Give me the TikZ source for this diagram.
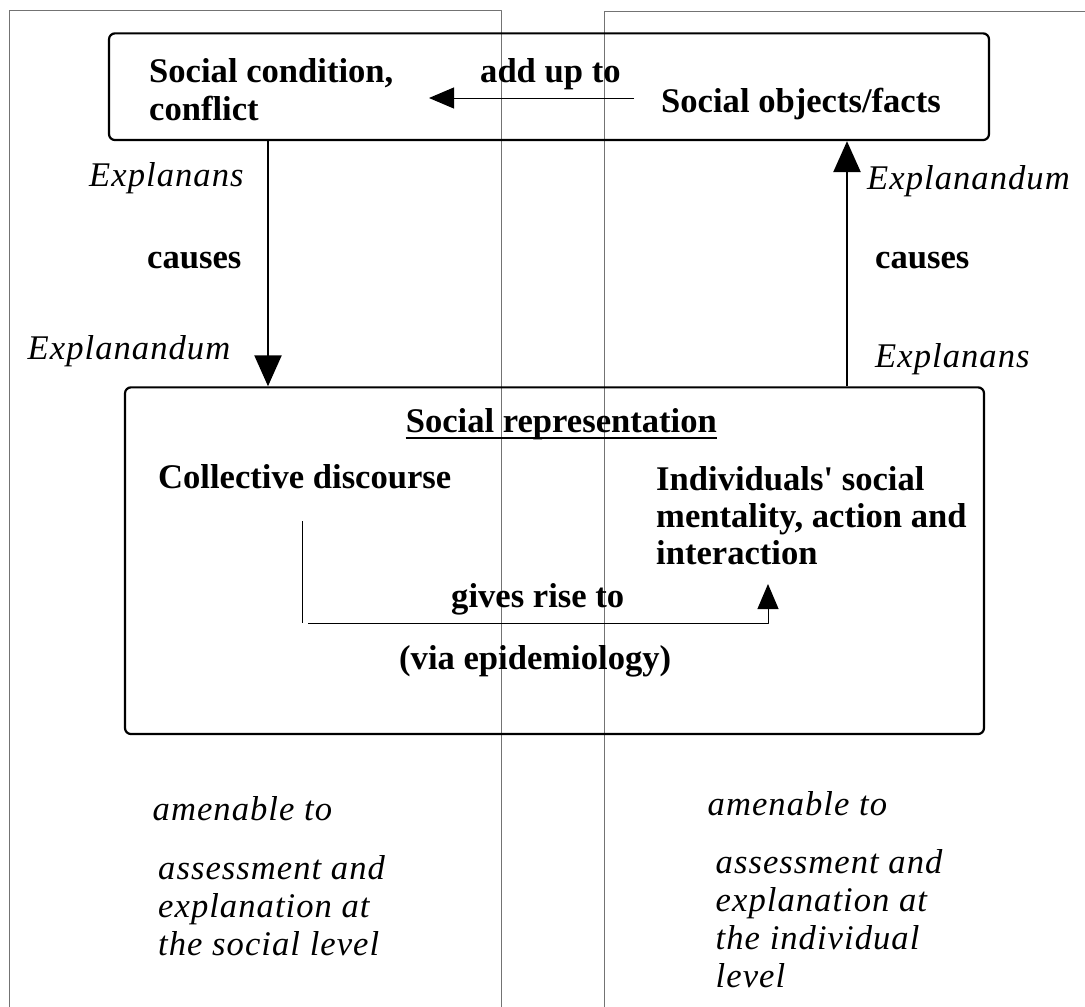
\documentclass[tikz,border=0pt]{standalone}
\usepackage{fontspec}
\setmainfont{Liberation Serif}
\newfontfamily\plainfont{Liberation Serif}
\newfontfamily\spacedfont[LetterSpace=3]{Liberation Serif}
\usetikzlibrary{arrows.meta}
\tikzset{
  level/.style={draw=black!55, line width=1pt},
  box/.style={draw, line width=2.2pt, rounded corners=6pt, inner sep=0pt},
  bold/.style={font=\fontsize{34.6}{37}\selectfont\plainfont\bfseries, inner sep=0pt, anchor=base west, align=left},
  slant/.style={font=\fontsize{34.6}{38}\selectfont\spacedfont\itshape, inner sep=0pt, anchor=base west, align=left},
  causal/.style={line width=2.5pt, -{Triangle[length=31pt,width=27pt]}},
  thinarrow/.style={line width=1pt, -{Triangle[length=25pt,width=21pt]}},
}
\begin{document}
\begin{tikzpicture}[x=1pt,y=-1pt,line join=bevel]
\useasboundingbox (0,0) rectangle (1085,1007);
  % Columns: social level / individual level
  \draw [level] (9,1015) -- (9,10) -- (501,10) -- (501,1015);
  \draw [level] (604,1015) -- (604,11) -- (1095,11);
  % Node: top
  \node [box, minimum width=880pt, minimum height=106.7pt] (top) at (549,86.7) {};
  \node [bold, font=\fontsize{34.6}{38}\selectfont\plainfont\bfseries] (cond) at (149,120) {Social condition,\\conflict};
  \node [bold] (addup) at (480,82) {add up to};
  \node [bold] (facts) at (661,112) {Social objects/facts};
  % Node: rep
  \node [box, minimum width=859pt, minimum height=346.7pt] (rep) at (554.5,560.7) {};
  \node [bold] (title) at (405.6,432) {Social representation};
  \draw [line width=1.4pt] ([yshift=-6pt]title.base west) -- ([yshift=-6pt]title.base east);
  \node [bold] (discourse) at (158,488) {Collective discourse};
  \node [bold] (mentality) at (656,564) {Individuals' social\\mentality, action and\\interaction};
  \node [bold] (rise) at (451,607) {gives rise to};
  \node [bold] (via) at (399,669) {(via epidemiology)};
  % Labels along the arrows
  \node [slant] (lans) at (89,186) {Explanans};
  \node [bold] (lcauses) at (147,268) {causes};
  \node [slant] (ldum) at (27.5,359) {Explanandum};
  \node [slant] (rdum) at (867,189) {Explanandum};
  \node [bold] (rcauses) at (875,268) {causes};
  \node [slant] (rans) at (875,367) {Explanans};
  % Levels
  \node [slant] (lamen) at (152.5,820) {amenable to};
  \node [slant] (lassess) at (158,955) {assessment and\\explanation at\\the social level};
  \node [slant] (ramen) at (707.5,815) {amenable to};
  \node [slant] (rassess) at (715.5,987) {assessment and\\explanation at\\the individual\\level};
  % Coordinates for the connectors
  \coordinate (leftx) at (268,0);
  \coordinate (rightx) at (847,0);
  \coordinate (addfrom) at (634,98);
  \coordinate (addto) at (429,98);
  \coordinate (gtop) at (302,521);
  \coordinate (gfoot) at (302,623);
  \coordinate (gend) at (768,584);
  % Edge: facts -> cond
  \draw [thinarrow] (addfrom) -- (addto);
  % Edge: top -> rep
  \draw [causal] (top.south -| leftx) -- (rep.north -| leftx);
  % Edge: rep -> top
  \draw [causal] (rep.north -| rightx) -- (top.south -| rightx);
  % Edge: discourse -> mentality
  \draw [line width=1pt] (gtop) -- (gfoot);
  \draw [thinarrow] ([xshift=6pt]gfoot) -| (gend);
\end{tikzpicture}
\end{document}
